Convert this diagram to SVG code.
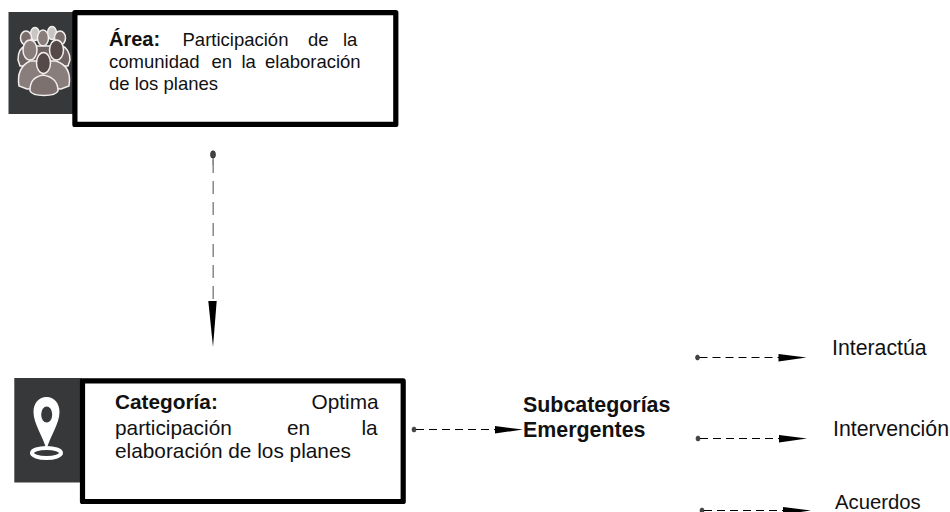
<svg xmlns="http://www.w3.org/2000/svg" width="950" height="512" viewBox="0 0 950 512">
<style>
text{font-family:"Liberation Sans",Arial,sans-serif;font-size:21px;fill:#111}
.s{font-size:18.500px}
.m{font-size:20.800px}
.b{font-weight:bold}
.box{fill:#fff;stroke:#000;stroke-width:5.200;stroke-linejoin:round}
.ic{fill:#36383a}
.dash{fill:none;stroke:#000;stroke-width:1;stroke-dasharray:8 5}
.dot{fill:#444;stroke:#222;stroke-width:.6}
.head{fill:#000}
.p1{stroke:#f2efee;stroke-width:1.500}
</style>
<defs>
<g id="arrow"><ellipse class="dot" cx="0" cy="0" rx="2" ry="2.500"/><path class="dash" d="M2 0H82"/><path class="head" d="M81-3.500L109 0L81 4Z"/></g>
</defs>
<g id="connectors">
<ellipse cx="213" cy="154.500" rx="2.500" ry="3.800" fill="#444" stroke="#222" stroke-width=".6"/>
<path d="M213.200 158V301" fill="none" stroke="#888" stroke-width="1.500" stroke-dasharray="13 8" stroke-dashoffset="-2"/>
<path d="M213.200 158V165" fill="none" stroke="#888" stroke-width="1.500"/>
<path class="head" d="M208.300 301H216.700L213 347Z"/>
<use href="#arrow" x="414" y="429.500"/>
<use href="#arrow" x="697.500" y="357.500"/>
<use href="#arrow" x="698" y="438.500"/>
<use href="#arrow" x="702" y="510.500"/>
</g>
<g id="area">
<rect class="ic" x="8.500" y="12" width="66" height="102"/>
<g id="people-icon" class="p1">
<ellipse fill="#c9c5c3" cx="35" cy="34" rx="4.500" ry="6.500"/>
<ellipse fill="#c9c5c3" cx="52" cy="33" rx="4.500" ry="6.500"/>
<ellipse fill="#7a6e6d" cx="26" cy="38" rx="5.500" ry="7"/>
<ellipse fill="#7a6e6d" cx="60" cy="38" rx="5.500" ry="7"/>
<ellipse fill="#8a7e7c" cx="43" cy="38" rx="5.500" ry="8"/>
<path fill="#6e6362" d="M18 60c0-8 3-13 8-14h36c4 1 8 6 8 14l-2 6H20Z"/>
<path fill="#8a7e7c" d="M19 86c-2-12 1-20 11-25h26c12 4 15 13 13 25l-8 3H27Z"/>
<ellipse fill="#8a7e7c" cx="30" cy="50" rx="7" ry="10"/>
<ellipse fill="#56494a" cx="56.500" cy="50" rx="7" ry="10"/>
<path fill="#7d7170" d="M30 91c0-9 3-14 13-16c11 2 15 7 15 16c-3 6-25 6-28 0Z"/>
<ellipse fill="#55494a" cx="43.500" cy="63" rx="7" ry="10.500"/>
</g>
<rect class="box" x="74.900" y="12.700" width="320.900" height="111.700"/>
<text class="b" x="109" y="46" style="font-size:20px">Área:</text>
<text class="s" x="182.500" y="46">Participación</text><text class="s" x="308" y="46">de</text><text class="s" x="343" y="46">la</text>
<text class="s" x="109" y="67.500">comunidad</text><text class="s" x="211.500" y="67.500">en</text><text class="s" x="241.500" y="67.500">la</text><text class="s" x="265" y="67.500">elaboración</text>
<text class="s" x="109" y="90">de los planes</text>
</g>
<g id="categoria">
<rect class="ic" x="14.300" y="378" width="67.500" height="104.500"/>
<path fill="#fff" d="M46.500 397C55 397 59.500 404 59.500 412C59.500 424 50 436 46.500 450C43 436 33.500 424 33.500 412C33.500 404 38 397 46.500 397Z"/>
<ellipse class="ic" cx="46.700" cy="414.500" rx="5.500" ry="8"/>
<ellipse cx="46.500" cy="453" rx="14.500" ry="5" fill="none" stroke="#fff" stroke-width="4"/>
<rect class="box" x="82.500" y="380.900" width="320.700" height="120.600"/>
<text x="115" y="409" class="m b">Categoría:</text><text class="m" x="311.500" y="409">Optima</text>
<text class="m" x="115" y="434.500">participación</text><text class="m" x="287" y="434.500">en</text><text class="m" x="361.500" y="434.500">la</text>
<text class="m" x="115" y="458">elaboración de los planes</text>
</g>
<g id="subcategorias">
<text x="523" y="412" class="b" style="font-size:21.400px">Subcategorías</text>
<text x="523" y="437" class="b" style="font-size:21.400px">Emergentes</text>
</g>
<g id="interactua"><text x="832" y="355" style="font-size:21.300px">Interactúa</text></g>
<g id="intervencion"><text x="833" y="436" style="font-size:21.300px">Intervención</text></g>
<g id="acuerdos"><text x="835" y="509" style="font-size:20.300px">Acuerdos</text></g>
</svg>
